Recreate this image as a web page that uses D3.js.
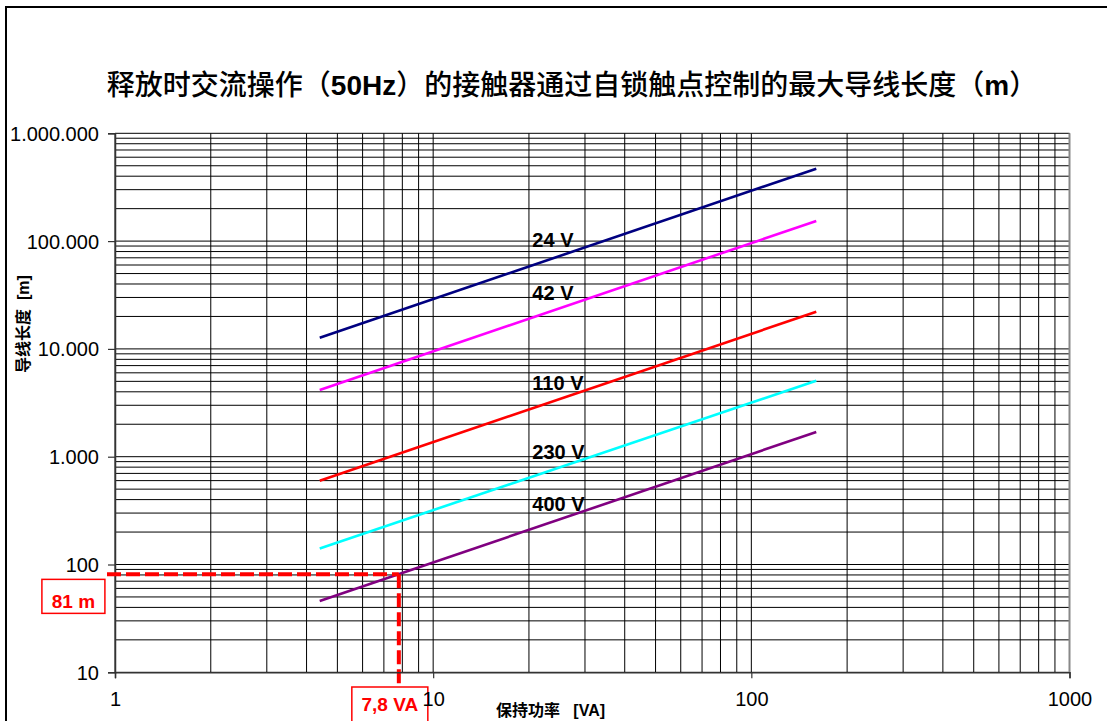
<!DOCTYPE html>
<html>
<head>
<meta charset="utf-8">
<script src="https://cdn.jsdelivr.net/npm/d3@7"></script>
<style>
  html, body { margin: 0; padding: 0; background: #fff; }
  svg { display: block; }
  text { font-family: "Liberation Sans", Arial, "Noto Sans CJK SC", sans-serif; white-space: pre; }
  .cjk { font-family: "Noto Sans CJK SC", "Liberation Sans", sans-serif; }
</style>
</head>
<body>
<svg id="chart" width="1107" height="721"></svg>
<script>
// Holding power (VA) at the two ends of each curve
const powerVA = [4.4, 160];
// Maximum control-wire length (m) for each supply voltage
const len24V  = [12700, 470000];
const len42V  = [4160, 153700];
const len110V = [599, 22100];
const len230V = [141, 5070];
const len400V = [45.8, 1695];

const seriesNames  = ["24 V", "42 V", "110 V", "230 V", "400 V"];
const seriesValues = [len24V, len42V, len110V, len230V, len400V];
const seriesColors = ["#000080", "#ff00ff", "#ff0000", "#00ffff", "#800080"];

// Axis tick values
const xTicks = [1, 10, 100, 1000];
const yTicks = [10, 100, 1000, 10000, 100000, 1000000];

// Worked example
const markVA = 7.8;
const markLen = 81;
const markVALabel = "7,8 VA";
const markLenLabel = "81 m";

const titleParts = [
  { t: "释放时交流操作（", cjk: true },
  { t: "50Hz", cjk: false },
  { t: "）的接触器通过自锁触点控制的最大导线长度（", cjk: true },
  { t: "m", cjk: false },
  { t: "）", cjk: true }
];
const yTitleParts = [
  { t: "导线长度", cjk: true },
  { t: "\u00a0\u00a0[m]", cjk: false }
];
const xTitle = "保持功率\u00a0\u00a0\u00a0[VA]";
const labelVA = 20.5; // x position (VA) of the curve labels

// ---- layout ----
const plot = { left: 115, right: 1069.5, top: 133.3, bottom: 672.3 };
const svg = d3.select("#chart");

const x = d3.scaleLog().domain([1, 1000]).range([plot.left, plot.right]);
const y = d3.scaleLog().domain([10, 1000000]).range([plot.bottom, plot.top]);

const dotLocale = d3.formatLocale({ decimal: ",", thousands: ".", grouping: [3], currency: ["", ""] });
const fmt = dotLocale.format(",d");

// outer chart frame
svg.append("rect")
  .attr("x", 6).attr("y", 7).attr("width", 1120).attr("height", 740)
  .attr("fill", "#fff").attr("stroke", "#000").attr("stroke-width", 2);

// title
const title = svg.append("text")
  .attr("x", 572).attr("y", 95)
  .attr("text-anchor", "middle")
  .attr("font-size", 28);
titleParts.forEach(p => {
  title.append("tspan")
    .attr("class", p.cjk ? "cjk" : null)
    .attr("font-weight", p.cjk ? 500 : "bold")
    .text(p.t);
});

// gridlines: every 1..9 step of each decade
const gx = [];
for (let d = 1; d < 1000; d *= 10) for (let k = 1; k <= 9; k++) gx.push(k * d);
gx.push(1000);
const gy = [];
for (let d = 10; d < 1000000; d *= 10) for (let k = 1; k <= 9; k++) gy.push(k * d);
gy.push(1000000);

const grid = svg.append("g").attr("stroke", "#000").attr("stroke-width", 1);
grid.selectAll("line.gx").data(gx).join("line")
  .attr("class", "gx")
  .attr("x1", d => x(d)).attr("x2", d => x(d))
  .attr("y1", plot.top).attr("y2", plot.bottom);
grid.selectAll("line.gy").data(gy).join("line")
  .attr("class", "gy")
  .attr("x1", plot.left).attr("x2", plot.right)
  .attr("y1", d => y(d)).attr("y2", d => y(d));

// plot border (right edge in grey)
svg.append("line")
  .attr("x1", plot.right).attr("x2", plot.right)
  .attr("y1", plot.top).attr("y2", plot.bottom)
  .attr("stroke", "#888").attr("stroke-width", 2);

// axes
const yAxis = d3.axisLeft(y).tickValues(yTicks).tickFormat(fmt).tickSize(7).tickPadding(9);
const xAxis = d3.axisBottom(x).tickValues(xTicks).tickFormat(d3.format("d")).tickSize(6).tickPadding(14);

const gyA = svg.append("g").attr("transform", `translate(${plot.left},0)`).call(yAxis);
const gxA = svg.append("g").attr("transform", `translate(0,${plot.bottom})`).call(xAxis);
[gyA, gxA].forEach(g => {
  g.selectAll("path.domain").attr("stroke", "#333").attr("stroke-width", 1.5);
  g.selectAll(".tick line").attr("stroke", "#333").attr("stroke-width", 1.2);
  g.selectAll(".tick text")
    .attr("fill", "#000")
    .attr("font-size", 20)
    .attr("font-family", "'Liberation Sans', Arial, sans-serif");
});
gyA.selectAll(".tick text").attr("dy", "0.35em");

// series curves
const line = d3.line().x(d => x(d[0])).y(d => y(d[1]));
seriesValues.forEach((vals, i) => {
  svg.append("path")
    .datum(powerVA.map((p, j) => [p, vals[j]]))
    .attr("d", line)
    .attr("fill", "none")
    .attr("stroke", seriesColors[i])
    .attr("stroke-width", 2.6);
});

// curve labels
seriesValues.forEach((vals, i) => {
  const slope = Math.log(vals[1] / vals[0]) / Math.log(powerVA[1] / powerVA[0]);
  const v = vals[0] * Math.pow(labelVA / powerVA[0], slope);
  svg.append("text")
    .attr("x", x(labelVA))
    .attr("y", y(v) - 18)
    .attr("font-size", 20)
    .attr("font-weight", "bold")
    .attr("fill", "#000")
    .text(seriesNames[i]);
});

// worked example: dashed guide lines
const mx = x(markVA), my = y(markLen);
const dash = svg.append("g")
  .attr("stroke", "#ff0000").attr("stroke-width", 4)
  .attr("stroke-dasharray", "14,5").attr("fill", "none");
dash.append("line").attr("x1", plot.left - 8).attr("x2", mx).attr("y1", my).attr("y2", my);
dash.append("line").attr("x1", mx).attr("x2", mx).attr("y1", my).attr("y2", 687);

// value boxes
function valueBox(cx, top, w, h, label, baseline) {
  svg.append("rect")
    .attr("x", cx - w / 2).attr("y", top).attr("width", w).attr("height", h)
    .attr("fill", "#fff").attr("stroke", "#ff0000").attr("stroke-width", 1.5);
  svg.append("text")
    .attr("x", cx).attr("y", baseline)
    .attr("text-anchor", "middle")
    .attr("font-size", 19).attr("font-weight", "bold")
    .attr("fill", "#ff0000")
    .text(label);
}
valueBox(73.4, my + 5, 63, 34, markLenLabel, my + 34);
valueBox(mx - 9, 687, 76, 50, markVALabel, 711);

// keep the x tick labels above the box
gxA.raise();

// axis titles
const yt = svg.append("text")
  .attr("transform", `translate(29,324) rotate(-90)`)
  .attr("text-anchor", "middle")
  .attr("font-size", 16).attr("font-weight", "bold");
yTitleParts.forEach(p => {
  yt.append("tspan").attr("class", p.cjk ? "cjk" : null).text(p.t);
});
svg.append("text")
  .attr("x", 496).attr("y", 716)
  .attr("font-size", 16).attr("font-weight", "bold")
  .text(xTitle);
</script>
</body>
</html>
